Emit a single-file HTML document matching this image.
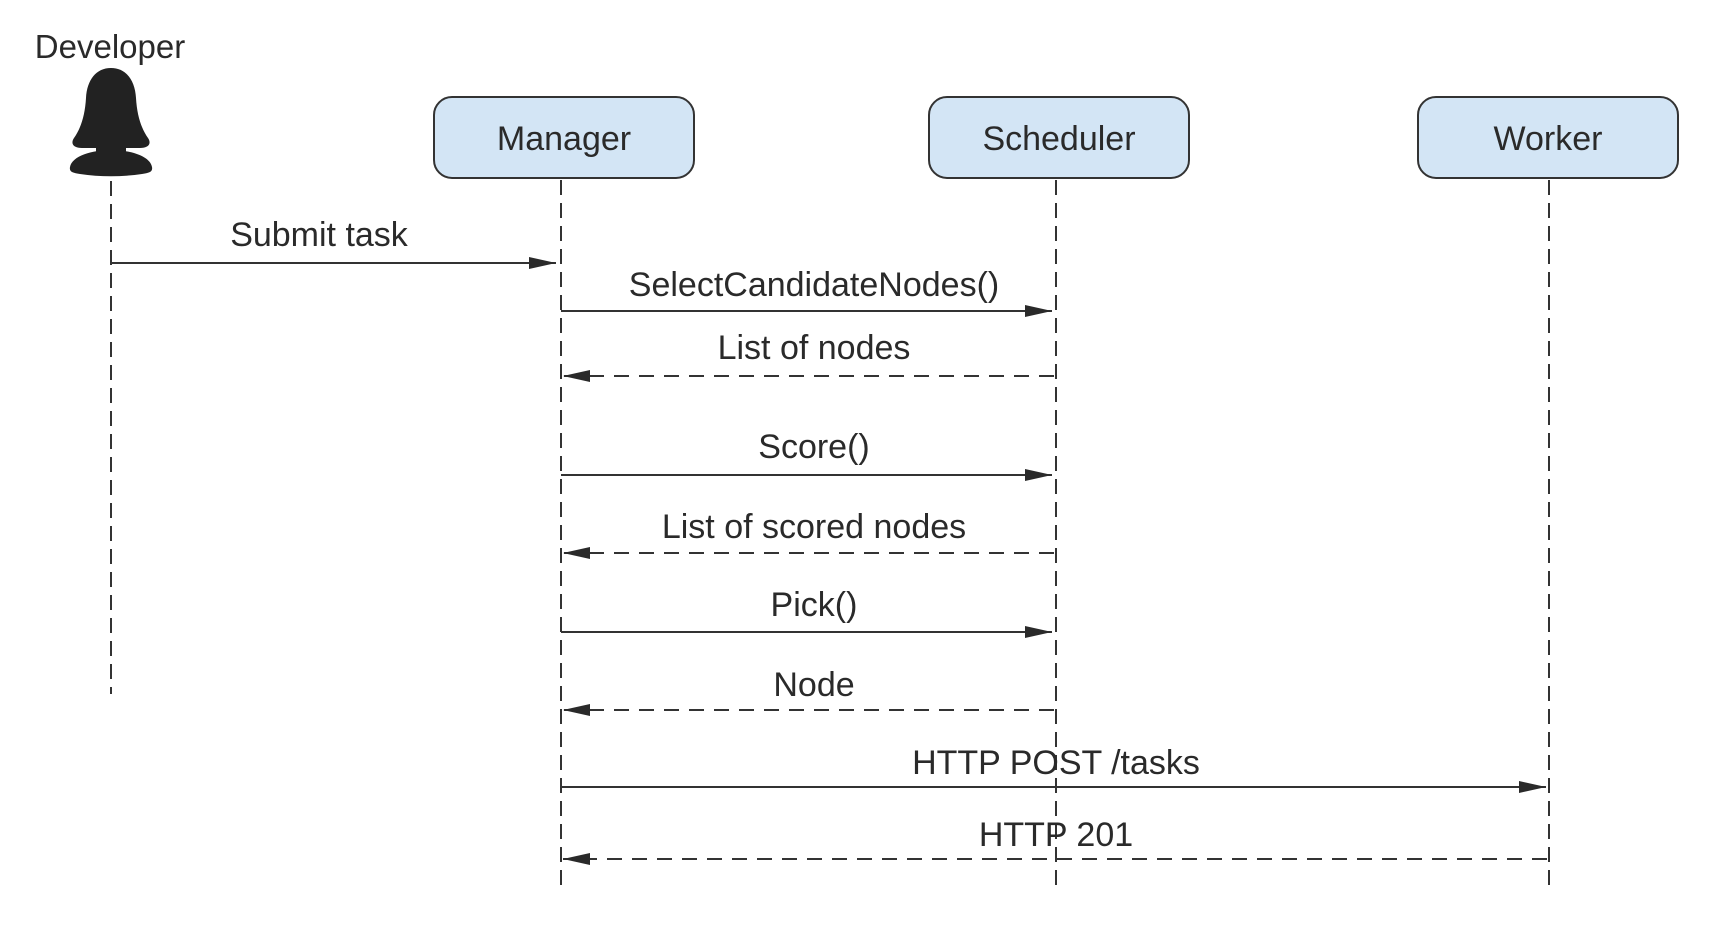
<!DOCTYPE html>
<html><head><meta charset="utf-8"><style>
html,body{margin:0;padding:0;background:#fff;}
svg{display:block;}
text{font-family:"Liberation Sans",Arial,sans-serif;fill:#2a2a2a;}
</style></head><body>
<svg width="1712" height="925" viewBox="0 0 1712 925" xmlns="http://www.w3.org/2000/svg">
<defs>
<marker id="ah" markerWidth="28" markerHeight="14" refX="27" refY="7" orient="auto" markerUnits="userSpaceOnUse">
<path d="M0,1 L27,7 L0,13 Z" fill="#2a2a2a"/>
</marker>
</defs>
<!-- actor -->
<text x="110" y="58" font-size="33" text-anchor="middle">Developer</text>
<path d="M111,150 C92,150 72,156 70,167 C69,172 73,173 80,174 C100,177 122,177 142,174 C149,173 153,172 152,167 C150,156 130,150 111,150 Z" fill="#222"/>
<path d="M111,68 C96,68 87,80 86,98 C85,115 81,128 74,138 C70,144 74,148 82,148 L140,148 C148,148 152,144 148,138 C141,128 137,115 136,98 C135,80 126,68 111,68 Z" fill="#222"/>
<rect x="96" y="140" width="30" height="14" fill="#222"/>
<!-- boxes -->
<g stroke="#333" stroke-width="2" fill="#d3e5f5">
<rect x="434" y="97" width="260" height="81" rx="18"/>
<rect x="929" y="97" width="260" height="81" rx="18"/>
<rect x="1418" y="97" width="260" height="81" rx="18"/>
</g>
<g font-size="34" text-anchor="middle">
<text x="564" y="150">Manager</text>
<text x="1059" y="150">Scheduler</text>
<text x="1548" y="150">Worker</text>
</g>
<!-- lifelines -->
<g stroke="#333" stroke-width="2" stroke-dasharray="15,8" fill="none">
<line x1="111" y1="181" x2="111" y2="694"/>
<line x1="561" y1="180" x2="561" y2="891"/>
<line x1="1056" y1="180" x2="1056" y2="891"/>
<line x1="1549" y1="180" x2="1549" y2="891"/>
</g>
<!-- messages -->
<g stroke="#333" stroke-width="2" fill="none">
<line x1="111" y1="263" x2="556" y2="263" marker-end="url(#ah)"/>
<line x1="561" y1="311" x2="1052" y2="311" marker-end="url(#ah)"/>
<line x1="1054" y1="376" x2="563" y2="376" stroke-dasharray="15,10" marker-end="url(#ah)"/>
<line x1="561" y1="475" x2="1052" y2="475" marker-end="url(#ah)"/>
<line x1="1054" y1="553" x2="563" y2="553" stroke-dasharray="15,10" marker-end="url(#ah)"/>
<line x1="561" y1="632" x2="1052" y2="632" marker-end="url(#ah)"/>
<line x1="1054" y1="710" x2="563" y2="710" stroke-dasharray="15,10" marker-end="url(#ah)"/>
<line x1="561" y1="787" x2="1546" y2="787" marker-end="url(#ah)"/>
<line x1="1547" y1="859" x2="563" y2="859" stroke-dasharray="15,10" marker-end="url(#ah)"/>
</g>
<g font-size="34" text-anchor="middle">
<text x="319" y="246">Submit task</text>
<text x="814" y="296">SelectCandidateNodes()</text>
<text x="814" y="359">List of nodes</text>
<text x="814" y="458">Score()</text>
<text x="814" y="538">List of scored nodes</text>
<text x="814" y="616">Pick()</text>
<text x="814" y="696">Node</text>
<text x="1056" y="774">HTTP POST /tasks</text>
<text x="1056" y="846">HTTP 201</text>
</g>
</svg>
</body></html>
